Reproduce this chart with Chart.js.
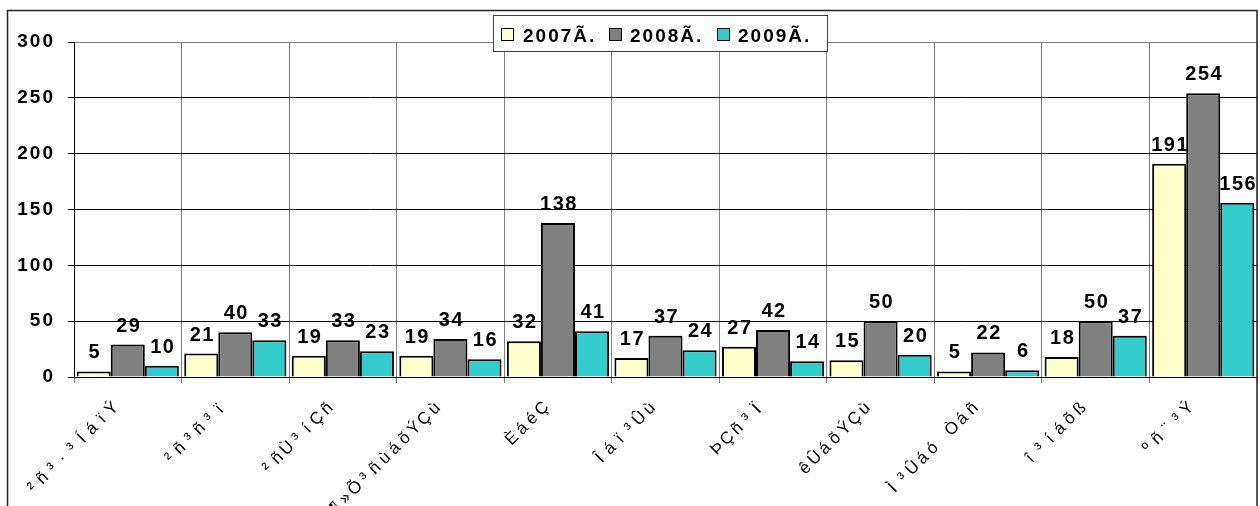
<!DOCTYPE html>
<html>
<head>
<meta charset="utf-8">
<script src="https://cdn.jsdelivr.net/npm/chart.js@4"></script>
<style>
html,body{margin:0;padding:0;background:#fff;}
#wrap{width:1260px;height:506px;}
</style>
</head>
<body>
<div id="wrap"><canvas id="c" width="1260" height="506"></canvas></div>
<script>
const categories = ["²ñ³·³ÍáïÝ","²ñ³ñ³ï","²ñÙ³íÇñ","¶»Õ³ñùáõÝÇù","ÈáéÇ","Îáï³Ûù","ÞÇñ³Ï","êÛáõÝÇù","Ì³Ûáó Òáñ","î³íáõß","ºñ¨³Ý"];
const seriesNames = ["2007Ã.","2008Ã.","2009Ã."];
const values2007 = [5,21,19,19,32,17,27,15,5,18,191];
const values2008 = [29,40,33,34,138,37,42,50,22,50,254];
const values2009 = [10,33,23,16,41,24,14,20,6,37,156];
const yTicks = [0,50,100,150,200,250,300];
const colors = ["#FFFFCC","#808080","#33CCCC"];

const fontFam = "Arial, 'Liberation Sans', sans-serif";

const framePlugin = {
  id: 'frame',
  beforeDraw(chart) {
    const ctx = chart.ctx;
    ctx.save();
    ctx.fillStyle = '#fff';
    ctx.fillRect(0, 0, chart.width, chart.height);
    ctx.restore();
    const ys = chart.scales.y;
    if (ys && !ys._patched) {
      const o = ys.drawLabels;
      ys.drawLabels = function(a){ const c=this.ctx; c.save(); c.letterSpacing='2px'; o.call(this,a); c.restore(); };
      ys._patched = true;
    }
  },
  afterDatasetsDraw(chart) {
    const ctx = chart.ctx;
    ctx.save();
    ctx.font = "bold 20px " + fontFam;
    ctx.letterSpacing = '1.5px';
    ctx.fillStyle = '#000';
    ctx.textAlign = 'center';
    ctx.textBaseline = 'alphabetic';
    chart.data.datasets.forEach((ds, di) => {
      const meta = chart.getDatasetMeta(di);
      meta.data.forEach((el, i) => {
        ctx.fillText(String(ds.data[i]), el.x + 1, el.y - 13);
      });
    });
    ctx.restore();
  },
  afterDraw(chart) {
    const ctx = chart.ctx;
    const xs = chart.scales.x;
    // category labels, rotated, fixed advance per character
    ctx.save();
    ctx.font = "17px " + fontFam;
    ctx.fillStyle = '#000';
    ctx.textAlign = 'center';
    ctx.textBaseline = 'middle';
    const adv = 14;
    chart.data.labels.forEach((lab, i) => {
      const cx = xs.getPixelForTick(i);
      ctx.save();
      ctx.translate(cx - 11, 404);
      ctx.rotate(-Math.PI / 4);
      const chars = Array.from(lab);
      const n = chars.length;
      chars.forEach((ch, k) => {
        ctx.fillText(ch, -adv * (n - 1 - k) - adv / 2, 0);
      });
      ctx.restore();
    });
    ctx.restore();

    ctx.save();
    ctx.strokeStyle = '#222';
    ctx.lineWidth = 1.5;
    ctx.strokeRect(7.5, 10.5, 1249.5, 510);
    ctx.fillStyle = '#fff';
    ctx.fillRect(493.5, 15.5, 334, 36);
    ctx.strokeStyle = '#404040';
    ctx.lineWidth = 1;
    ctx.strokeRect(493.5, 15.5, 334, 36);
    const mx = [501, 609, 717];
    const tx = [523, 630, 738];
    ctx.font = "bold 19px " + fontFam;
    ctx.letterSpacing = '2px';
    ctx.textBaseline = 'alphabetic';
    ctx.textAlign = 'left';
    chart.data.datasets.forEach((ds, i) => {
      ctx.fillStyle = ds.backgroundColor;
      ctx.fillRect(mx[i] + 0.5, 28.5, 12, 12);
      ctx.strokeStyle = '#000';
      ctx.strokeRect(mx[i] + 0.5, 28.5, 12, 12);
      ctx.fillStyle = '#000';
      ctx.fillText(ds.label, tx[i], 41.5);
    });
    ctx.restore();
  }
};

new Chart(document.getElementById('c'), {
  type: 'bar',
  data: {
    labels: categories,
    datasets: [
      {label: seriesNames[0], data: values2007, backgroundColor: colors[0], borderColor: '#000', borderWidth: 2},
      {label: seriesNames[1], data: values2008, backgroundColor: colors[1], borderColor: '#000', borderWidth: 2},
      {label: seriesNames[2], data: values2009, backgroundColor: colors[2], borderColor: '#000', borderWidth: 2}
    ]
  },
  options: {
    responsive: false,
    devicePixelRatio: 1,
    animation: false,
    layout: {padding: {top: 42, left: 0, right: 3, bottom: 0}},
    datasets: {bar: {categoryPercentage: 0.95, barPercentage: 1.0}},
    plugins: {legend: {display: false}, tooltip: {enabled: false}},
    scales: {
      x: {
        grid: {offset: true, color: '#808080', lineWidth: 1, tickLength: 6, tickColor: '#808080'},
        border: {color: '#000', width: 1},
        ticks: {display: false, autoSkip: false},
        afterFit(s) { s.height = 129; }
      },
      y: {
        min: 0, max: 300,
        afterBuildTicks(s) { s.ticks = yTicks.map(v => ({value: v})); },
        grid: {color: c => (c.tick && c.tick.value === 300) ? '#808080' : '#000', lineWidth: 1, tickLength: 6, tickColor: '#000'},
        border: {color: '#000', width: 1},
        ticks: {padding: 13, color: '#000', font: {family: fontFam, size: 19, weight: 'bold'}},
        afterFit(s) { s.width = 74; }
      }
    }
  },
  plugins: [framePlugin]
});
</script>
</body>
</html>
